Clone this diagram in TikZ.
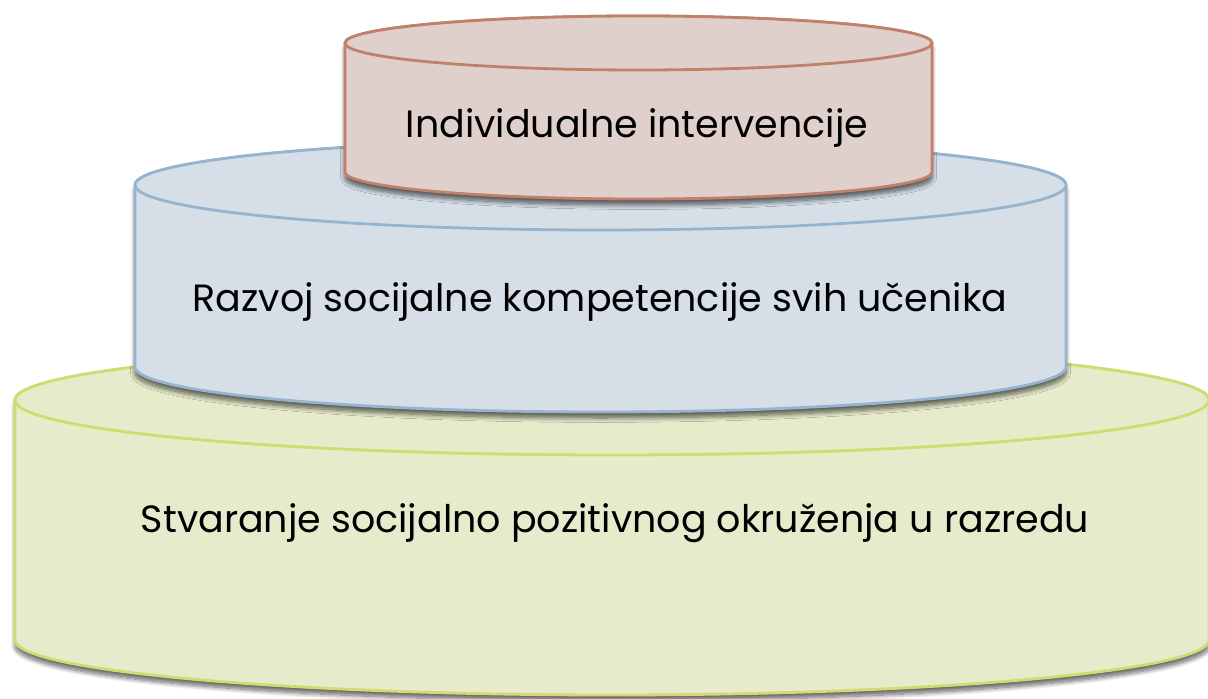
\documentclass[tikz,border=0pt]{standalone}
\usepackage{fontspec}
\setmainfont{Poppins}
\usetikzlibrary{shadows.blur}

\definecolor{grnfill}{RGB}{230,235,203}
\definecolor{grnline}{RGB}{209,219,112}
\definecolor{bluefill}{RGB}{214,222,231}
\definecolor{blueline}{RGB}{150,180,207}
\definecolor{redfill}{RGB}{224,208,204}
\definecolor{redline}{RGB}{192,128,106}

\tikzset{
  tier/.style={line width=1.4pt},
  grntier/.style={tier,draw=grnline,fill=grnfill},
  bluetier/.style={tier,draw=blueline,fill=bluefill},
  redtier/.style={tier,draw=redline,fill=redfill},
  softshadow/.style={blur shadow={shadow xshift=0pt,shadow yshift=-3pt,shadow blur steps=10,shadow opacity=60}},
  label/.style={font=\fontsize{19}{22}\selectfont,text=black}
}

\begin{document}
\begin{tikzpicture}[x=0.5pt,y=-0.5pt]
\useasboundingbox (0,0) rectangle (1208,699);
% bottom tier
\draw[grntier,softshadow] (15,400) -- (15,640) arc[start angle=180,end angle=0,x radius=597,y radius=55]
  -- (1209,400) arc[start angle=0,end angle=-180,x radius=597,y radius=55] -- cycle;
\draw[grntier] (612,400) ellipse[x radius=597,y radius=55];
% middle tier
\draw[bluetier,softshadow] (135,185) -- (135,367) arc[start angle=180,end angle=0,x radius=465.5,y radius=45]
  -- (1066,185) arc[start angle=0,end angle=-180,x radius=465.5,y radius=45] -- cycle;
\draw[bluetier] (600.5,185) ellipse[x radius=465.5,y radius=45];
% top tier
\draw[redtier,softshadow] (345,43) -- (345,172) arc[start angle=180,end angle=0,x radius=293.5,y radius=27]
  -- (932,43) arc[start angle=0,end angle=-180,x radius=293.5,y radius=27] -- cycle;
\draw[redtier] (638.5,43) ellipse[x radius=293.5,y radius=27];

\node[label] (individual) at (637,128) {Individualne intervencije};
\node[label] (competence) at (600,302) {Razvoj socijalne kompetencije svih učenika};
\node[label] (environment) at (615,523) {Stvaranje socijalno pozitivnog okruženja u razredu};
\end{tikzpicture}
\end{document}
